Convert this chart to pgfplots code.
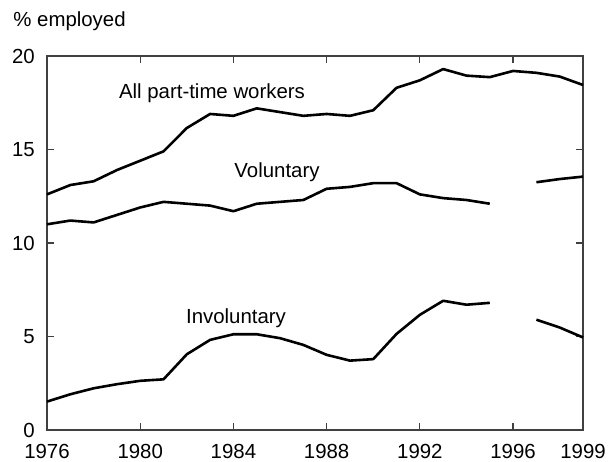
\documentclass[border=0pt]{standalone}
\usepackage{fontspec}
\setmainfont{Liberation Sans}
\usepackage{pgfplots}
\pgfplotsset{compat=1.18}
\begin{document}
\begin{tikzpicture}[font=\fontsize{10.2}{12.2}\selectfont]
\useasboundingbox (-23.5pt,-15.5pt) rectangle (280.5pt,215pt);
\begin{axis}[
  at={(0,0)}, anchor=south west,
  width=268pt, height=187pt, scale only axis,
  xmin=1976, xmax=1999, ymin=0, ymax=20,
  xtick={1976,1980,1984,1988,1992,1996,1999},
  xticklabels={1976,1980,1984,1988,1992,1996,1999},
  ytick={0,5,10,15,20},
  tick align=inside,
  major tick length=3.5pt,
  axis line style={draw=black!75, line width=0.6pt},
  every tick/.style={draw=black!75, line width=0.6pt},
  /pgf/number format/assume math mode=true,
  yticklabel style={xshift=-2.6pt},
  xticklabel style={yshift=-3.4pt},
  unbounded coords=jump,
  clip=false,
]
\addplot[black, line width=1.3pt, line join=round, no markers] coordinates {
(1976,12.6) (1977,13.1) (1978,13.3) (1979,13.9) (1980,14.4) (1981,14.9)
(1982,16.15) (1983,16.9) (1984,16.8) (1985,17.2) (1986,17.0) (1987,16.8)
(1988,16.9) (1989,16.8) (1990,17.1) (1991,18.3) (1992,18.7) (1993,19.3)
(1994,18.95) (1995,18.87) (1996,19.2) (1997,19.1) (1998,18.9) (1999,18.45)
};
\addplot[black, line width=1.3pt, line join=round, no markers] coordinates {
(1976,11.0) (1977,11.2) (1978,11.1) (1979,11.5) (1980,11.9) (1981,12.2)
(1982,12.1) (1983,12.0) (1984,11.7) (1985,12.1) (1986,12.2) (1987,12.3)
(1988,12.9) (1989,13.0) (1990,13.2) (1991,13.2) (1992,12.6) (1993,12.4)
(1994,12.3) (1995,12.1) (1996,nan) (1997,13.25) (1998,13.42) (1999,13.55)
};
\addplot[black, line width=1.3pt, line join=round, no markers] coordinates {
(1976,1.52) (1977,1.91) (1978,2.23) (1979,2.45) (1980,2.63) (1981,2.71)
(1982,4.05) (1983,4.82) (1984,5.12) (1985,5.12) (1986,4.91) (1987,4.55)
(1988,4.02) (1989,3.71) (1990,3.79) (1991,5.14) (1992,6.16) (1993,6.91)
(1994,6.7) (1995,6.8) (1996,nan) (1997,5.9) (1998,5.48) (1999,4.95)
};
\node[anchor=base] at (axis cs:1983.08,17.75) {All part-time workers};
\node[anchor=base] at (axis cs:1985.87,13.48) {Voluntary};
\node[anchor=base] at (axis cs:1984.11,5.72) {Involuntary};
\end{axis}
\node[anchor=base west, inner sep=0pt] at (-17pt,201.5pt) {\% employed};
\end{tikzpicture}
\end{document}
